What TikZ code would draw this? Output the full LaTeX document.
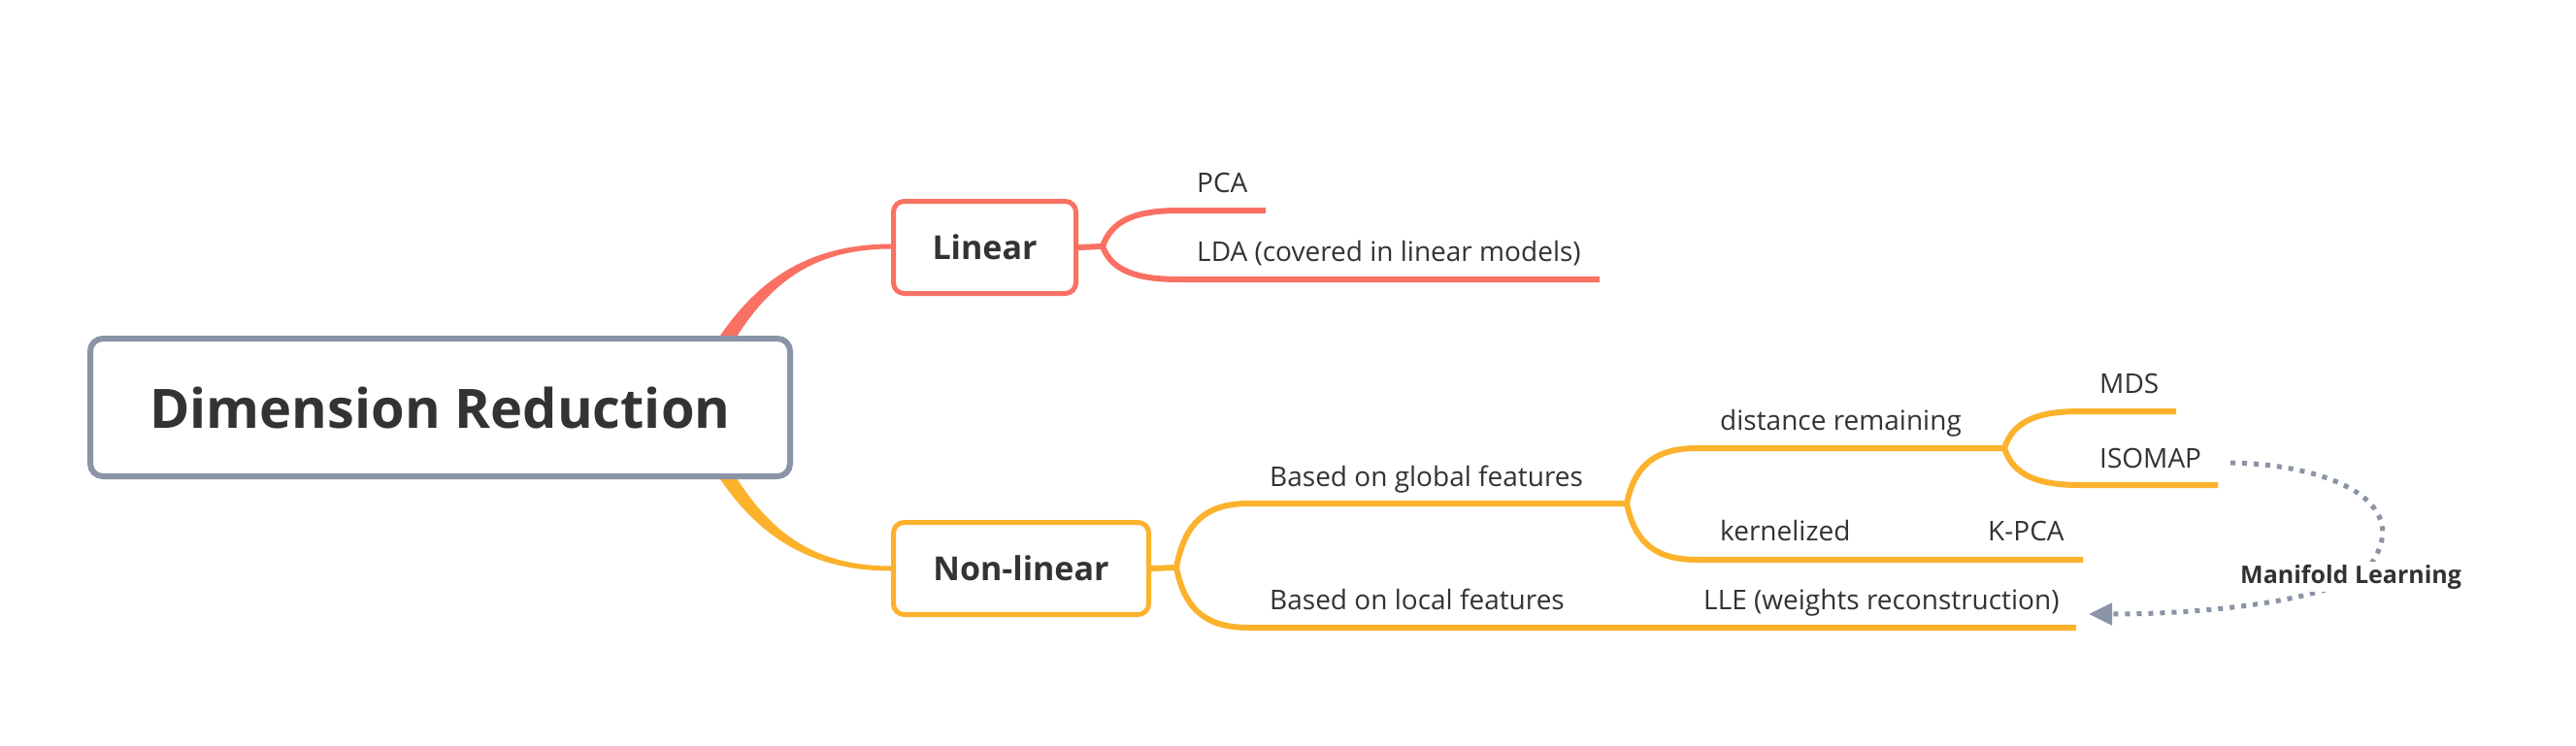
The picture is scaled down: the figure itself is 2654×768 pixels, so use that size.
\documentclass[tikz,border=0pt]{standalone}
\usepackage{fontspec}
\setmainfont{Open Sans}
\usetikzlibrary{arrows.meta}
\definecolor{salmon}{RGB}{250,112,98}
\definecolor{amber}{RGB}{252,178,44}
\definecolor{slate}{RGB}{138,148,166}
\definecolor{ink}{RGB}{51,51,51}
\begin{document}
\begin{tikzpicture}[x=1pt,y=-1pt,
  leaf/.style={anchor=base west,inner sep=0pt,text=ink,font=\fontsize{28}{32}\selectfont},
  lin/.style={line width=6pt,draw=salmon},
  nl/.style={line width=6pt,draw=amber},
  rel/.style={draw=slate,line width=5pt,dash pattern=on 5pt off 7pt},
  mainbox/.style={line width=5pt,fill=white,rounded corners=11pt,minimum height=95pt,text=ink,font=\bfseries\fontsize{34}{40}\selectfont},
  ]
\useasboundingbox (0,0) rectangle (2654,768);
\fill[white] (0,0) rectangle (2654,768);

% tapered main branches
\fill[salmon] (733,360) .. controls (780,283) and (839,251.5) .. (919,251.5) -- (919,256.5) .. controls (839,256.5) and (792,290) .. (751,360) -- cycle;
\fill[amber] (733,480) .. controls (780,557) and (839,588.5) .. (919,588.5) -- (919,583.5) .. controls (839,583.5) and (792,550) .. (751,480) -- cycle;

% main nodes
\node[draw=slate,line width=6pt,fill=white,rounded corners=13pt,minimum width=721pt,minimum height=142pt,text=ink,font=\bfseries\fontsize{56}{60}\selectfont] (root) at (453.5,420) {Dimension Reduction};
\node[mainbox,draw=salmon,minimum width=188pt] (linear) at (1014.5,255) {Linear};
\node[mainbox,draw=amber,minimum width=263pt] (nonlinear) at (1052,586) {Non-linear};

% coordinates
\coordinate (f1) at (1136,254);
\coordinate (pcaS) at (1215,217); \coordinate (pcaE) at (1304,217);
\coordinate (ldaS) at (1215,288); \coordinate (ldaE) at (1648,288);
\coordinate (f2) at (1212,585);
\coordinate (globS) at (1287,519); \coordinate (f3) at (1676,519);
\coordinate (locS) at (1287,647); \coordinate (locE) at (2139,647);
\coordinate (distS) at (1749,462); \coordinate (f4) at (2065,462);
\coordinate (kerS) at (1749,577); \coordinate (kerE) at (2146,577);
\coordinate (mdsS) at (2143,424); \coordinate (mdsE) at (2242,424);
\coordinate (isoS) at (2143,500); \coordinate (isoE) at (2285,500);

% linear branch
\draw[lin] (linear.east) -- (f1);
\draw[lin] (f1) .. controls (1145.5,226.25) and (1171.5,217) .. (pcaS) -- (pcaE);
\draw[lin] (f1) .. controls (1145.5,279.5) and (1171.5,288) .. (ldaS) -- (ldaE);

% non-linear branch
\draw[nl] (nonlinear.east) -- (f2);
\draw[nl] (f2) .. controls (1221,535.5) and (1245.75,519) .. (globS) -- (f3);
\draw[nl] (f2) .. controls (1221,631.5) and (1245.75,647) .. (locS) -- (locE);
\draw[nl] (f3) .. controls (1684.8,476.25) and (1708.9,462) .. (distS) -- (f4);
\draw[nl] (f3) .. controls (1684.8,562.5) and (1708.9,577) .. (kerS) -- (kerE);
\draw[nl] (f4) .. controls (2074.4,433.5) and (2100.1,424) .. (mdsS) -- (mdsE);
\draw[nl] (f4) .. controls (2074.4,490.5) and (2100.1,500) .. (isoS) -- (isoE);

% leaf texts
\node[leaf] (pca) at (1233,198) {PCA};
\node[leaf] (lda) at (1233,269) {LDA (covered in linear models)};
\node[leaf] (glob) at (1308,501) {Based on global features};
\node[leaf] (loc) at (1308,628) {Based on local features};
\node[leaf] (dist) at (1772,443) {distance remaining};
\node[leaf] (ker) at (1772,557) {kernelized};
\node[leaf] (kpca) at (2048,557) {K-PCA};
\node[leaf] (lle) at (1755,628) {LLE (weights reconstruction)};
\node[leaf] (mds) at (2163,405) {MDS};
\node[leaf] (iso) at (2163,482) {ISOMAP};

% relationship
\coordinate (rs) at (2298,477);
\coordinate (re) at (2152,633);
\draw[rel,-{Triangle[length=24pt,width=22pt]}] (rs) .. controls (2405,479) and (2490,520) .. (2440,585) .. controls (2415,615) and (2290,633) .. (re);
\node[fill=white,inner sep=3pt,anchor=base west,text=ink,font=\bfseries\fontsize{25}{28}\selectfont] (ml) at (2305,601) {Manifold Learning};
\end{tikzpicture}
\end{document}
